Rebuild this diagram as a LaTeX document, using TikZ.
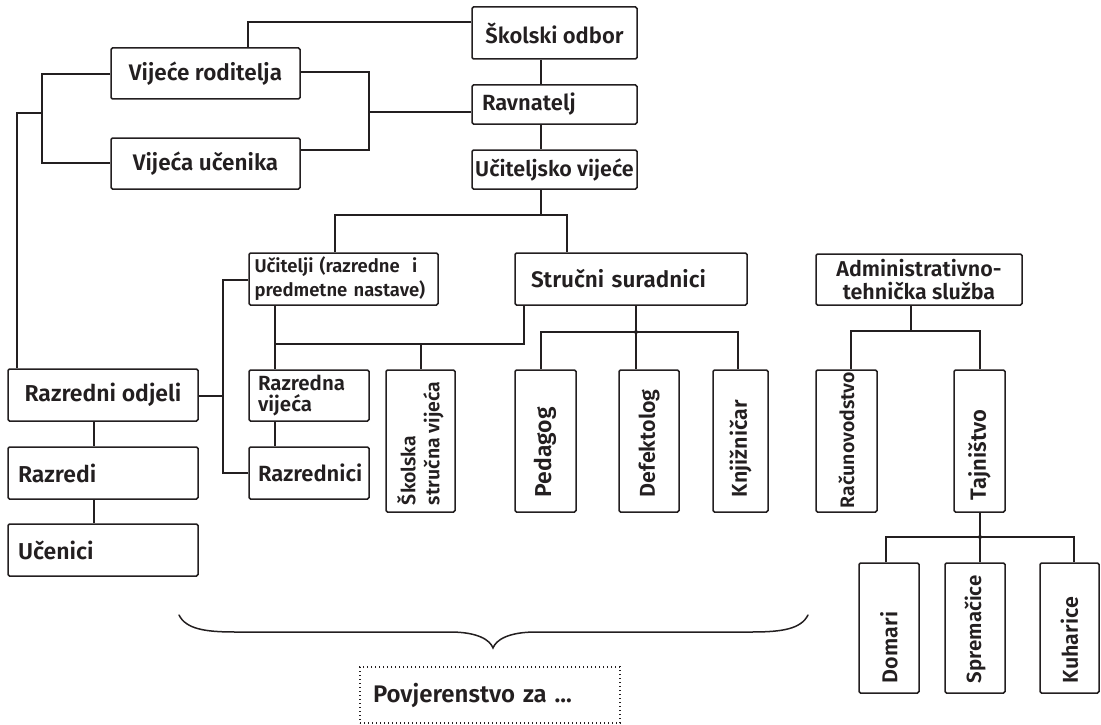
\documentclass[tikz,border=0pt]{standalone}
\usepackage{fontspec}
\setmainfont{Fira Sans}[UprightFont=* SemiBold]
\usepackage{graphicx}
\definecolor{ink}{HTML}{231F20}
\newcommand\vtxt[2]{\rotatebox{90}{\makebox[#1][l]{#2}}}
\newcommand\fs[1]{\fontsize{#1}{#1}\selectfont}
\begin{document}
\begin{tikzpicture}[x=1pt,y=-1pt,
  box/.style={draw=ink, line width=1.5pt, rounded corners=1.5pt, inner sep=0pt, text=ink,
    font=\fontsize{22.5}{26}\selectfont},
  conn/.style={draw=ink, line width=1.5pt},
  dotbox/.style={draw=ink, line width=1.3pt, dash pattern=on 1.3pt off 2.7pt, inner sep=0pt, text=ink,
    font=\fontsize{24}{26}\selectfont},
  small/.style={font=\fontsize{18.5}{24}\selectfont},
  mid/.style={font=\fontsize{20.5}{21}\selectfont},
  vt/.style={font=\fontsize{21.5}{23}\selectfont}]
\useasboundingbox (0,0) rectangle (1101,725);

% top column
\node[box, font=\fs{22}, minimum width=165, minimum height=52] (skolski) at (554.5,33) {Školski odbor};
\node[box, font=\fs{22}, minimum width=165, minimum height=39, text width=145, align=left] (ravnatelj) at (554.5,104.5) {Ravnatelj};
\node[box, font=\fs{21.5}, minimum width=165, minimum height=39] (uciteljsko) at (554.5,169.5) {Učiteljsko vijeće};

% councils
\node[box, minimum width=189, minimum height=51] (roditelja) at (205.5,73.5) {Vijeće roditelja};
\node[box, minimum width=189, minimum height=51] (ucenika) at (205.5,163.5) {Vijeća učenika};

% left column
\node[box, font=\fs{23}, minimum width=190, minimum height=52] (razodjeli) at (103,395) {Razredni odjeli};
\node[box, font=\fs{23}, minimum width=190, minimum height=52, text width=170, align=left] (razredi) at (103,473) {Razredi};
\node[box, font=\fs{23}, minimum width=190, minimum height=52, text width=170, align=left] (ucenici) at (103,550) {Učenici};

% teachers
\node[box, small, minimum width=189, minimum height=52, text width=178, align=left] (ucitelji) at (343.5,279) {\mbox{Učitelji (razredne~ i}\\\mbox{predmetne nastave)}};
\node[box, minimum width=232, minimum height=52, text width=200, align=left] (strucni) at (631,279) {Stručni suradnici};
\node[box, mid, minimum width=120, minimum height=51, text width=102, align=left] (razvijeca) at (309,395.5) {Razredna\\vijeća};
\node[box, font=\fs{22}, minimum width=120, minimum height=52, text width=102, align=left] (razrednici) at (309,473) {Razrednici};
\node[box, font=\fontsize{19.5}{24}\selectfont, minimum width=69, minimum height=142] (skolskasv) at (420.5,441) {\rotatebox{90}{\parbox{128pt}{\raggedright Školska\\stručna vijeća}}};
\node[box, font=\fs{23}, minimum width=61, minimum height=142] (pedagog) at (545.5,441) {\vtxt{112pt}{Pedagog}};
\node[box, vt, minimum width=60, minimum height=142] (defektolog) at (649,441) {\vtxt{112pt}{Defektolog}};
\node[box, vt, minimum width=55, minimum height=142] (knjiznicar) at (740.5,441) {\vtxt{112pt}{Knjižničar}};

% administration
\node[box, font=\fontsize{21.5}{23}\selectfont, minimum width=206, minimum height=51, align=center] (admin) at (919,279.5) {Administrativno-\\tehnička služba};
\node[box, font=\fs{19.5}, minimum width=61, minimum height=142] (racun) at (846.5,441) {\vtxt{134pt}{Računovodstvo}};
\node[box, font=\fs{22}, minimum width=51, minimum height=142] (tajnistvo) at (979.5,441) {\vtxt{118pt}{Tajništvo}};
\node[box, vt, minimum width=60, minimum height=130] (domari) at (889,628) {\vtxt{110pt}{Domari}};
\node[box, font=\fs{20.5}, minimum width=60, minimum height=130] (spremacice) at (975,628) {\vtxt{110pt}{Spremačice}};
\node[box, vt, minimum width=59, minimum height=130] (kuharice) at (1069.5,628) {\vtxt{110pt}{Kuharice}};

% committee
\node[dotbox, minimum width=260, minimum height=56, text width=234, align=left] (povj) at (490,695) {Povjerenstvo za ...};

% ---- connectors
\draw[conn] (skolski.west |- 0,22) -| (roditelja.north -| 248,0);
\coordinate (rb) at (369,112);
\draw[conn] (roditelja.east |- 0,72) -| (rb |- 0,150) -- (ucenika.east |- 0,150);
\draw[conn] (rb) -- (ravnatelj.west |- rb);
\coordinate (lb) at (42,113);
\draw[conn] (roditelja.west |- 0,74) -| (lb |- 0,163) -- (ucenika.west |- 0,163);
\draw[conn] (lb) -| (razodjeli.north -| 17,0);

\draw[conn] (skolski.south -| 541,0) -- (ravnatelj.north -| 541,0);
\draw[conn] (ravnatelj.south -| 541,0) -- (uciteljsko.north -| 541,0);
\coordinate (t1) at (541,215);
\draw[conn] (uciteljsko.south -| t1) -- (t1);
\draw[conn] (ucitelji.north -| 335,0) |- (t1) -| (strucni.north -| 567,0);

\coordinate (lv) at (223,280);
\draw[conn] (ucitelji.west |- lv) -- (lv) |- (razrednici.west |- 0,473);
\draw[conn] (razodjeli.east |- 0,396) -- (lv |- 0,396);

\coordinate (m) at (275,344);
\draw[conn] (ucitelji.south -| m) -- (razvijeca.north -| m);
\draw[conn] (razvijeca.south -| m) -- (razrednici.north -| m);
\draw[conn] (m) -| (strucni.south -| 524,0);
\draw[conn] (m -| 421,0) -- (skolskasv.north -| 421,0);

\coordinate (sj) at (636,332);
\draw[conn] (strucni.south -| sj) -- (sj);
\draw[conn] (pedagog.north -| 541,0) |- (sj) -| (knjiznicar.north -| 738,0);
\draw[conn] (sj) -- (defektolog.north -| sj);
\fill[ink] (sj) circle (2pt);

\coordinate (aj) at (911,331);
\draw[conn] (admin.south -| aj) -- (aj);
\draw[conn] (racun.north -| 851,0) |- (aj) -| (tajnistvo.north -| 980,0);

\coordinate (tj) at (980,537);
\draw[conn] (tajnistvo.south -| tj) -- (tj);
\draw[conn] (domari.north -| 886,0) |- (tj) -| (kuharice.north -| 1074,0);
\draw[conn] (tj) -- (spremacice.north -| tj);
\fill[ink] (tj) circle (2pt);

\draw[conn] (razodjeli.south -| 94,0) -- (razredi.north -| 94,0);
\draw[conn] (razredi.south -| 94,0) -- (ucenici.north -| 94,0);

% brace
\draw[conn, line cap=round] (179,615) .. controls (186,629) and (205,632) .. (235,632)
  -- (450,632) .. controls (478,632) and (490,640) .. (493,648)
  .. controls (496,640) and (508,632) .. (536,632)
  -- (752,632) .. controls (782,632) and (801,629) .. (808,615);
\end{tikzpicture}
\end{document}
